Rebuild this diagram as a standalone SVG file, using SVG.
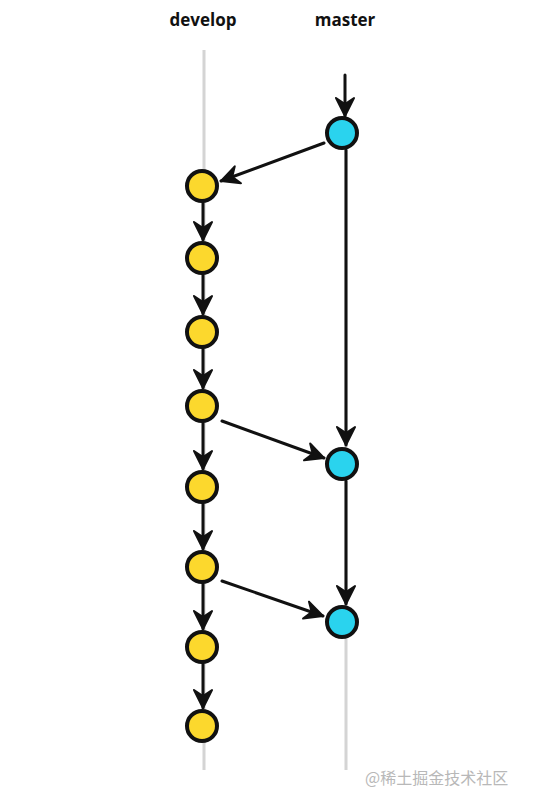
<svg xmlns="http://www.w3.org/2000/svg" width="534" height="804" viewBox="0 0 534 804">
<style>
.lbl{font-family:"Open Sans","Liberation Sans",sans-serif;font-weight:bold;font-size:17px;fill:#111;text-anchor:middle}
.track{stroke:#d4d4d4;stroke-width:3;fill:none}
.edge{stroke:#111;stroke-width:3;fill:none;stroke-linecap:round}
.dev{fill:#fcd82d;stroke:#111;stroke-width:4}
.mas{fill:#2ad3ee;stroke:#111;stroke-width:4}
.wm{font-family:"Noto Sans CJK SC","Noto Sans",sans-serif;font-size:16px;fill:#b8b8b8}
</style>
<defs>
<marker id="arr" viewBox="0 0 24 24" refX="21" refY="12" markerWidth="24" markerHeight="24" markerUnits="userSpaceOnUse" orient="auto">
<path d="M3,3 L21,12 L3,21 L9,12 Z" fill="#111" stroke="#111" stroke-width="2" stroke-linejoin="round"/>
</marker>
</defs>
<rect width="534" height="804" fill="#fff"/>
<text class="lbl" x="203" y="26">develop</text>
<text class="lbl" x="345" y="26">master</text>
<g id="tracks">
<line class="track" x1="204" y1="50" x2="204" y2="770"/>
<line class="track" x1="346" y1="140" x2="346" y2="770"/>
</g>
<g id="connectors">
<line class="edge" x1="345" y1="75" x2="345" y2="116" marker-end="url(#arr)"/>
<line class="edge" x1="346" y1="150" x2="346" y2="445" marker-end="url(#arr)"/>
<line class="edge" x1="346" y1="481" x2="346" y2="604" marker-end="url(#arr)"/>
<line class="edge" x1="324" y1="143" x2="221" y2="181" marker-end="url(#arr)"/>
<line class="edge" x1="222" y1="421" x2="324" y2="458" marker-end="url(#arr)"/>
<line class="edge" x1="222" y1="581" x2="323" y2="616" marker-end="url(#arr)"/>
<line class="edge" x1="203" y1="203" x2="203" y2="240" marker-end="url(#arr)"/>
<line class="edge" x1="203" y1="275" x2="203" y2="314" marker-end="url(#arr)"/>
<line class="edge" x1="203" y1="349" x2="203" y2="388" marker-end="url(#arr)"/>
<line class="edge" x1="203" y1="423" x2="203" y2="469" marker-end="url(#arr)"/>
<line class="edge" x1="203" y1="504" x2="203" y2="549" marker-end="url(#arr)"/>
<line class="edge" x1="203" y1="584" x2="203" y2="629" marker-end="url(#arr)"/>
<line class="edge" x1="203" y1="664" x2="203" y2="708" marker-end="url(#arr)"/>
</g>
<g id="m1"><circle class="mas" cx="342" cy="133" r="15"/></g>
<g id="m2"><circle class="mas" cx="342" cy="464" r="15"/></g>
<g id="m3"><circle class="mas" cx="342" cy="622" r="15"/></g>
<g id="d1"><circle class="dev" cx="202" cy="186" r="15"/></g>
<g id="d2"><circle class="dev" cx="202" cy="258" r="15"/></g>
<g id="d3"><circle class="dev" cx="202" cy="332" r="15"/></g>
<g id="d4"><circle class="dev" cx="202" cy="406" r="15"/></g>
<g id="d5"><circle class="dev" cx="202" cy="487" r="15"/></g>
<g id="d6"><circle class="dev" cx="202" cy="567" r="15"/></g>
<g id="d7"><circle class="dev" cx="202" cy="647" r="15"/></g>
<g id="d8"><circle class="dev" cx="202" cy="726" r="15"/></g>
<text class="wm" x="365" y="784">@稀土掘金技术社区</text>
</svg>
